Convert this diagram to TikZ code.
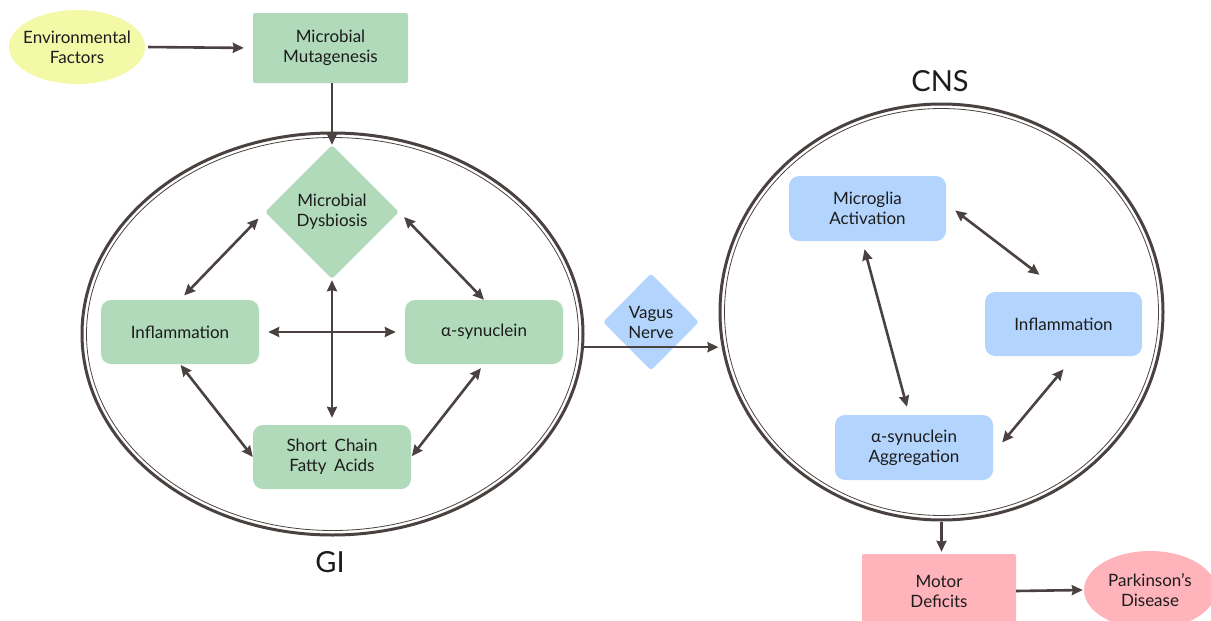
\documentclass[tikz,border=0pt]{standalone}
\usepackage{fontspec}
\setmainfont{Lato}
\usetikzlibrary{shapes.geometric,arrows.meta,calc}
\definecolor{arr}{HTML}{4A4240}
\definecolor{gfill}{HTML}{B0DABA}
\definecolor{yfill}{HTML}{F4F9A8}
\definecolor{bfill}{HTML}{B3D4FD}
\definecolor{pfill}{HTML}{FFB3BA}
\definecolor{txt}{HTML}{1C1C1C}
\tikzset{
  lbl/.style={font=\fontsize{17}{20}\selectfont, text=txt, align=center, inner sep=0pt},
  rbox/.style={lbl, rectangle, rounded corners=10pt, minimum width=158pt, minimum height=64pt},
  sqbox/.style={lbl, rectangle, rounded corners=2pt, minimum width=155pt, minimum height=70pt},
  dia/.style={lbl, diamond, rounded corners=3pt, aspect=1},
  oval/.style={ellipse, inner sep=0pt},
  region/.style={ellipse, draw=arr, line width=3pt, inner sep=0pt},
  inner/.style={ellipse, draw=arr, line width=0.8pt, inner sep=0pt},
  con/.style={draw=arr, line width=2.6pt, -{Stealth[length=11pt,width=10pt,inset=1pt]}},
  bicon/.style={draw=arr, line width=2.6pt, {Stealth[length=11pt,width=10pt,inset=1pt]}-{Stealth[length=11pt,width=10pt,inset=1pt]}},
  title/.style={font=\fontsize{29}{32}\selectfont, text=txt, inner sep=0pt}
}
\begin{document}
\begin{tikzpicture}[x=1pt,y=-1pt]
\useasboundingbox (0,0) rectangle (1211,621);
% regions
\node[region, minimum width=501pt, minimum height=402pt] (gi) at (332.5,334) {};
\node[inner, minimum width=492pt, minimum height=393pt] (giin) at (332.5,334) {};
\node[region, minimum width=443pt, minimum height=416pt] (cns) at (941.5,312) {};
\node[inner, minimum width=434pt, minimum height=407pt] (cnsin) at (941.5,312) {};
\node[title] (gilbl) at (330,562) {GI};
\node[title] (cnslbl) at (940,81) {CNS};
% top nodes
\node[oval, fill=yfill, minimum width=136pt, minimum height=74pt,
      label={[lbl]center:Environmental\\Factors}] (env) at (77,47) {};
\node[sqbox, fill=gfill] (mut) at (330.5,48) {Microbial\\Mutagenesis};
% GI nodes
\node[dia, fill=gfill, minimum width=134pt, minimum height=134pt] (dys) at (332,212) {Microbial\\Dysbiosis};
\node[rbox, fill=gfill] (infl) at (180,332) {Inflammation};
\node[rbox, fill=gfill] (syn) at (484,332) {α-synuclein};
\node[rbox, fill=gfill] (scfa) at (332,457) {Short\hspace{0.45em}Chain\\Fatty\hspace{0.45em}Acids};
% vagus
\node[dia, fill=bfill, minimum width=96pt, minimum height=97pt] (vn) at (651,322) {Vagus\\Nerve};
% CNS nodes
\node[rbox, fill=bfill, minimum width=157pt, minimum height=65pt] (mic) at (867.5,208.5) {Microglia\\Activation};
\node[rbox, fill=bfill, minimum width=157pt] (inf2) at (1063.5,324) {Inflammation};
\node[rbox, fill=bfill, minimum width=158pt, minimum height=65pt] (agg) at (914,447.5) {α-synuclein\\Aggregation};
% bottom
\node[sqbox, fill=pfill, minimum width=154pt, minimum height=74pt] (mot) at (939,591) {Motor\\Deficits};
\node[oval, fill=pfill, minimum width=132pt, minimum height=78pt,
      label={[lbl]center:Parkinson’s\\Disease}] (pd) at (1150,590) {};
% connectors
\draw[con, shorten <=3pt, shorten >=9pt] (env.east) -- (mut.west);
\draw[con] (dys.north |- mut.south) -- (dys.north);
\draw[bicon, shorten <=9pt, shorten >=6pt] (dys.west) -- (infl.north);
\draw[bicon, shorten <=7pt, shorten >=0pt] (dys.east) -- (syn.north);
\draw[bicon, shorten <=9pt, shorten >=9pt] (infl.east) -- (syn.west);
\draw[bicon, shorten <=1pt, shorten >=7pt] (dys.south) -- (scfa.north);
\draw[bicon, shorten <=1pt, shorten >=0pt] (infl.south) -- (scfa.west);
\draw[bicon, shorten <=5pt, shorten >=1pt] (syn.south) -- (scfa.east);
\draw[con] (gi.-3) -- (gi.-3 -| cns.west);
\draw[bicon] ([xshift=9pt,yshift=-2pt]mic.east) -- ([xshift=-24pt,yshift=17pt]inf2.north);
\draw[bicon] ([xshift=-3pt,yshift=-8pt]mic.south) -- ([xshift=-7pt,yshift=8pt]agg.north);
\draw[bicon] ([xshift=9pt,yshift=5pt]agg.east) -- ([yshift=-13pt]inf2.south);
\draw[con, shorten >=2pt] (cns.south) -- (cns.south |- mot.north);
\draw[con, shorten >=1pt] (mot.east) -- (pd.west);
\end{tikzpicture}
\end{document}
